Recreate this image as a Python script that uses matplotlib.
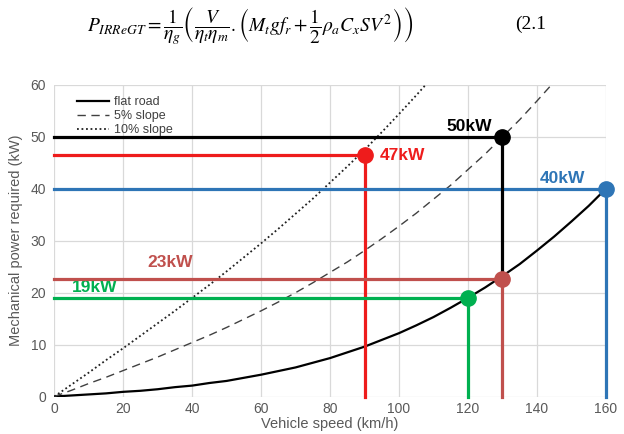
import numpy as np
import matplotlib
matplotlib.use('Agg')
import matplotlib.pyplot as plt

plt.rcParams['font.family'] = ['Liberation Sans', 'DejaVu Sans']
plt.rcParams['mathtext.fontset'] = 'stix'

# speed (km/h) and power (kW)
speed = [0, 5, 10, 15, 20, 25, 30, 35, 40, 45, 50, 55, 60, 65, 70, 75, 80,
         85, 90, 95, 100, 105, 110, 115, 120, 125, 130, 135, 140, 145, 150, 155, 160]
flat_road = [0, 0.2, 0.4, 0.6, 0.9, 1.1, 1.4, 1.8, 2.1, 2.6, 3.0, 3.6, 4.2, 4.9,
             5.6, 6.5, 7.4, 8.5, 9.6, 10.9, 12.2, 13.7, 15.3, 17.1, 19.0, 21.0,
             23.2, 25.5, 28.1, 30.8, 33.7, 36.7, 40.0]
slope5 = [0, 1.2, 2.5, 3.7, 5.0, 6.3, 7.6, 9.0, 10.4, 11.8, 13.3, 14.9, 16.5,
          18.2, 20.0, 21.9, 23.9, 25.9, 28.1, 30.4, 32.8, 35.3, 38.0, 40.7,
          43.7, 46.7, 50.0, 53.3, 56.9, 60.6]
slope10 = [0, 2.3, 4.6, 7.0, 9.3, 11.7, 14.1, 16.5, 19.0, 21.5, 24.1, 26.8,
           29.5, 32.3, 35.2, 38.1, 41.2, 44.3, 47.5, 50.9, 54.4, 58.0, 61.7]

# operating points: (speed, power, label)
pt_speed = [90, 130, 160, 130, 120]
pt_power = [46.5, 50, 40, 22.6, 18.9]
pt_label = ['47kW', '50kW', '40kW', '23kW', '19kW']
pt_color = ['#ee1c1c', '#000000', '#2e75b6', '#c0504d', '#00b050']

fig = plt.figure(figsize=(6.24, 4.34), dpi=100)
ax = fig.add_axes([0.087, 0.0864, 0.884, 0.718])

ax.plot(speed, flat_road, color='black', lw=1.6, label='flat road', zorder=3)
ax.plot(speed[:len(slope5)], slope5, color='#404040', lw=1.0,
        dashes=(6, 4), label='5% slope', zorder=3)
ax.plot(speed[:len(slope10)], slope10, color='#202020', lw=1.3,
        linestyle=(0, (1, 1.5)), label='10% slope', zorder=3)

lw = 2.3
for i in range(len(pt_speed)):
    x, y, c = pt_speed[i], pt_power[i], pt_color[i]
    ax.plot([0, x], [y, y], color=c, lw=lw, zorder=4, clip_on=False)
    # black drop line stops at the 23kW point
    y_end = pt_power[3] if pt_label[i] == '50kW' else 0
    ax.plot([x, x], [y, y_end], color=c, lw=lw, zorder=5 if c == '#000000' else 4,
            clip_on=False)
    ax.plot(x, y, 'o', color=c, ms=11, zorder=6, clip_on=False)

fs = 12.5
ax.text(127, 50.6, '50kW', color='black', fontsize=fs, fontweight='bold', ha='right', va='bottom')
ax.text(94.5, 46.5, '47kW', color=pt_color[0], fontsize=fs, fontweight='bold', ha='left', va='center')
ax.text(154, 40.6, '40kW', color=pt_color[2], fontsize=fs, fontweight='bold', ha='right', va='bottom')
ax.text(33.7, 24.3, '23kW', color=pt_color[3], fontsize=fs, fontweight='bold', ha='center', va='bottom')
ax.text(11.8, 19.6, '19kW', color=pt_color[4], fontsize=fs, fontweight='bold', ha='center', va='bottom')

ax.set_xlim(0, 160)
ax.set_ylim(0, 60)
ax.set_xticks(range(0, 161, 20))
ax.set_yticks(range(0, 61, 10))
ax.grid(True, color='#d9d9d9', lw=0.9)
ax.set_axisbelow(True)
for s in ax.spines.values():
    s.set_visible(False)
ax.tick_params(axis='y', length=0, labelsize=10, labelcolor='#595959', pad=6)
ax.tick_params(axis='x', length=0, labelsize=10, labelcolor='#595959', pad=4)
ax.set_xlabel('Vehicle speed (km/h)', fontsize=10.5, color='#595959', labelpad=1)
ax.set_ylabel('Mechanical power required (kW)', fontsize=10.5, color='#595959', labelpad=5)

leg = ax.legend(loc='upper left', bbox_to_anchor=(0.02, 1.0), frameon=False,
                fontsize=9, handlelength=2.6, labelspacing=0.15, handletextpad=0.4)
for t in leg.get_texts():
    t.set_color('#404040')

eq = (r'$P_{IRReGT}=\dfrac{1}{\eta_g}\left(\dfrac{V}{\eta_t\eta_m}.\left(M_t g f_r'
      r'+\dfrac{1}{2}\rho_a C_x S V^2\right)\right)$')
fig.text(0.14, 0.94, eq, fontsize=14, ha='left', va='center')
fig.text(0.825, 0.945, '(2.1', fontsize=14, ha='left', va='center', family='Liberation Serif')

fig.savefig('out.png', dpi=100)
